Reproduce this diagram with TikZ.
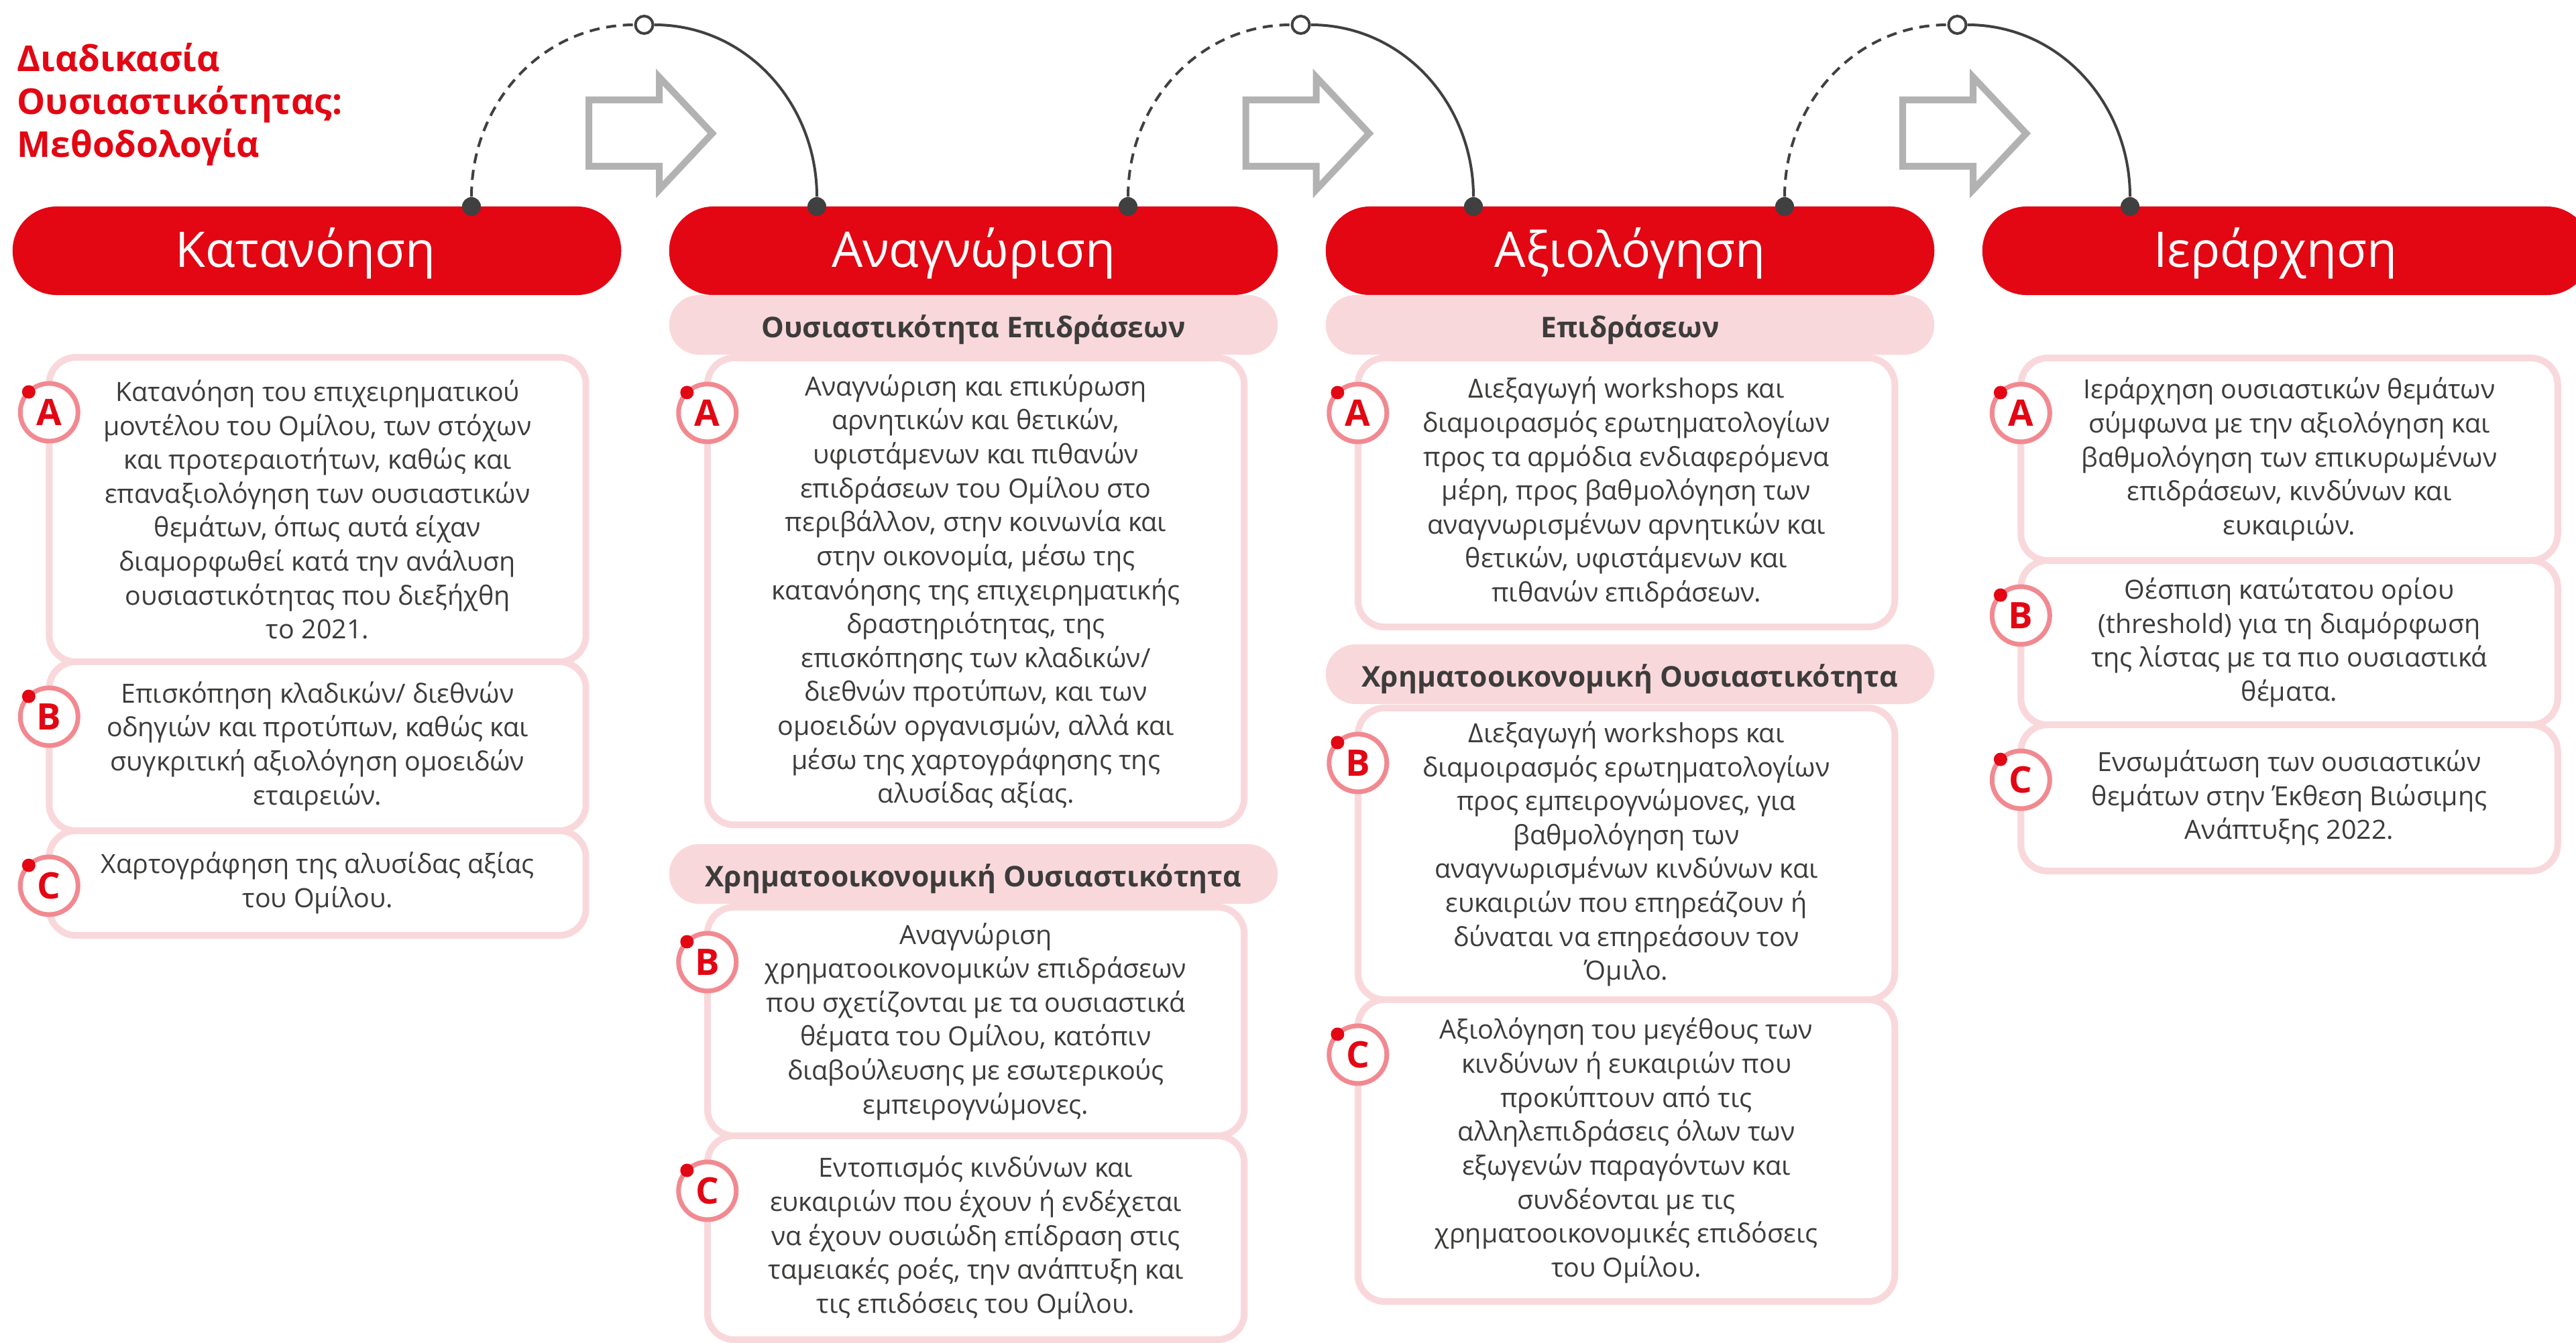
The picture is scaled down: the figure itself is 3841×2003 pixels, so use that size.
\documentclass[tikz,border=0pt]{standalone}
\usepackage{fontspec}
\setmainfont{Open Sans}
\usetikzlibrary{positioning}
\definecolor{dred}{HTML}{E30613}
\definecolor{lpink}{HTML}{F9D8DC}
\definecolor{bpink}{HTML}{F28990}
\definecolor{txtgray}{HTML}{3C3C3B}
\definecolor{lnkgray}{HTML}{404040}
\definecolor{arrgray}{HTML}{B2B2B2}
\tikzset{
hdr/.style={fill=dred,text=white,rounded corners=0.66cm,minimum width=9.07cm,minimum height=1.32cm,inner sep=0,font=\fontsize{20.8}{25}\selectfont,text height=0.48cm,text depth=0cm},
subhdr/.style={fill=lpink,rounded corners=0.445cm,minimum width=9.07cm,minimum height=0.89cm,inner sep=0,text=txtgray,font=\bfseries\fontsize{12.1}{14}\selectfont,text height=0.37cm,text depth=0cm},
itembox/.style={draw=lpink,line width=0.1cm,fill=white,rounded corners=0.4cm,minimum width=8cm,inner sep=0,outer sep=0,align=center,text=txtgray,font=\fontsize{11.2}{14.4}\selectfont},
badge/.style={circle,draw=bpink,line width=0.07cm,fill=white,minimum size=0.86cm,inner sep=0,outer sep=0,text=dred,font=\bfseries\fontsize{15.5}{16}\selectfont},
jdot/.style={circle,fill=lnkgray,minimum size=0.28cm,inner sep=0},
hub/.style={circle,draw=lnkgray,line width=0.04cm,fill=white,minimum size=0.26cm,inner sep=0},
link/.style={draw=lnkgray,line width=0.04cm},
dashlink/.style={link,dash pattern=on 0.15cm off 0.1cm},
blockarrow/.style={draw=arrgray,line width=0.1cm,miter limit=10},
title/.style={text=dred,font=\bfseries\fontsize{15.1}{18.2}\selectfont,align=left,inner sep=0}
}
\newcommand{\badgeon}[3]{\node[badge] (#2) at ([yshift=-0.82cm]#1.north west) {#3};\fill[dred] (#2.135) circle[radius=0.1cm];}
\begin{document}
\begin{tikzpicture}[x=0.01cm,y=-0.01cm]
\useasboundingbox (0,0) rectangle (3841,2003);
\node[title,anchor=north west] (ttl) at (25,64) {Διαδικασία\\Ουσιαστικότητας:\\Μεθοδολογία};
\foreach \i/\hname/\hoff in {0/Κατανόηση/0.34,1/Αναγνώριση/0,2/Αξιολόγηση/0,3/Ιεράρχηση/0.34}
  \node[hdr] (h\i) at ({472.5+979*\i},374) {\hname\hspace*{\hoff cm}};
\foreach \i in {0,1,2}{
  \draw[blockarrow,xshift={\i*9.79cm}] (878,149)--(983,149)--(983,115)--(1062,199)--(983,283)--(983,248)--(878,248)--cycle;
  \node[jdot] (out\i) at ({703+979*\i},308) {};
  \node[jdot] (in\i) at ({1218+979*\i},308) {};
  \node[hub] (hub\i) at ({960.5+979*\i},37) {};
  \draw[dashlink] (out\i) to[out=90,in=180] (hub\i);
  \draw[link] (hub\i) to[out=0,in=90] (in\i);
}
\node[subhdr] (s1a) at (1451.5,484.5) {Ουσιαστικότητα Επιδράσεων};
\node[subhdr] (s1b) at (1451.5,1303.5) {Χρηματοοικονομική Ουσιαστικότητα};
\node[subhdr] (s2a) at (2430.5,484.5) {Επιδράσεων};
\node[subhdr] (s2b) at (2430.5,1005.5) {Χρηματοοικονομική Ουσιαστικότητα};
\node[itembox,minimum height=4.54cm] (k0a) at (473.5,760) {Κατανόηση του επιχειρηματικού\\μοντέλου του Ομίλου, των στόχων\\και προτεραιοτήτων, καθώς και\\επαναξιολόγηση των ουσιαστικών\\θεμάτων, όπως αυτά είχαν\\διαμορφωθεί κατά την ανάλυση\\ουσιαστικότητας που διεξήχθη\\το 2021.};
\node[itembox,minimum height=2.52cm] (k0b) at (473.5,1113) {Επισκόπηση κλαδικών/ διεθνών\\οδηγιών και προτύπων, καθώς και\\συγκριτική αξιολόγηση ομοειδών\\εταιρειών.};
\node[itembox,minimum height=1.56cm] (k0c) at (473.5,1317) {Χαρτογράφηση της αλυσίδας αξίας\\του Ομίλου.};
\node[itembox,minimum height=6.96cm] (k1a) at (1455,882) {Αναγνώριση και επικύρωση\\αρνητικών και θετικών,\\υφιστάμενων και πιθανών\\επιδράσεων του Ομίλου στο\\περιβάλλον, στην κοινωνία και\\στην οικονομία, μέσω της\\κατανόησης της επιχειρηματικής\\δραστηριότητας, της\\επισκόπησης των κλαδικών/\\διεθνών προτύπων, και των\\ομοειδών οργανισμών, αλλά και\\μέσω της χαρτογράφησης της\\αλυσίδας αξίας.};
\node[itembox,minimum height=3.41cm] (k1b) at (1455,1523.5) {Αναγνώριση\\χρηματοοικονομικών επιδράσεων\\που σχετίζονται με τα ουσιαστικά\\θέματα του Ομίλου, κατόπιν\\διαβούλευσης με εσωτερικούς\\εμπειρογνώμονες.};
\node[itembox,minimum height=3.04cm] (k1c) at (1455,1846) {Εντοπισμός κινδύνων και\\ευκαιριών που έχουν ή ενδέχεται\\να έχουν ουσιώδη επίδραση στις\\ταμειακές ροές, την ανάπτυξη και\\τις επιδόσεις του Ομίλου.};
\node[itembox,minimum height=4.01cm] (k2a) at (2425,734.5) {Διεξαγωγή workshops και\\διαμοιρασμός ερωτηματολογίων\\προς τα αρμόδια ενδιαφερόμενα\\μέρη, προς βαθμολόγηση των\\αναγνωρισμένων αρνητικών και\\θετικών, υφιστάμενων και\\πιθανών επιδράσεων.};
\node[itembox,minimum height=4.35cm] (k2b) at (2425,1273.5) {Διεξαγωγή workshops και\\διαμοιρασμός ερωτηματολογίων\\προς εμπειρογνώμονες, για\\βαθμολόγηση των\\αναγνωρισμένων κινδύνων και\\ευκαιριών που επηρεάζουν ή\\δύναται να επηρεάσουν τον\\Όμιλο.};
\node[itembox,minimum height=4.5cm] (k2c) at (2425,1716) {Αξιολόγηση του μεγέθους των\\κινδύνων ή ευκαιριών που\\προκύπτουν από τις\\αλληλεπιδράσεις όλων των\\εξωγενών παραγόντων και\\συνδέονται με τις\\χρηματοοικονομικές επιδόσεις\\του Ομίλου.};
\node[itembox,minimum height=3.02cm] (k3a) at (3413.5,685) {Ιεράρχηση ουσιαστικών θεμάτων\\σύμφωνα με την αξιολόγηση και\\βαθμολόγηση των επικυρωμένων\\επιδράσεων, κινδύνων και\\ευκαιριών.};
\node[itembox,minimum height=2.45cm] (k3b) at (3413.5,958.5) {Θέσπιση κατώτατου ορίου\\(threshold) για τη διαμόρφωση\\της λίστας με τα πιο ουσιαστικά\\θέματα.};
\node[itembox,minimum height=2.18cm] (k3c) at (3413.5,1190) {Ενσωμάτωση των ουσιαστικών\\θεμάτων στην Έκθεση Βιώσιμης\\Ανάπτυξης 2022.};
\foreach \k in {0,1,2,3}{
  \badgeon{k\k a}{ba\k}{A}
  \badgeon{k\k b}{bb\k}{B}
  \badgeon{k\k c}{bc\k}{C}
}
\end{tikzpicture}
\end{document}
